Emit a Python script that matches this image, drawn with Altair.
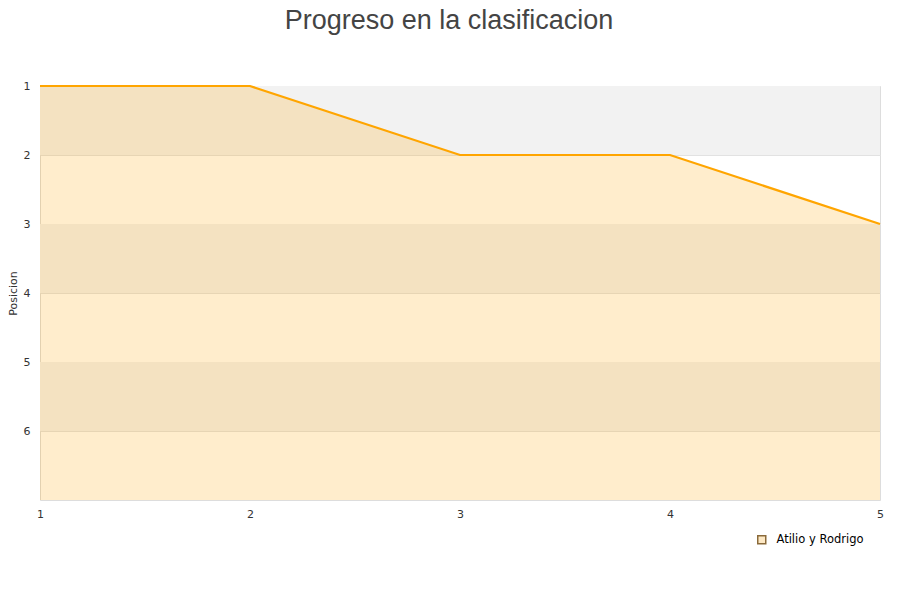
import altair as alt
import pandas as pd

jornadas = [1, 2, 3, 4, 5]
posiciones = [1, 1, 2, 2, 3]
equipo = "Atilio y Rodrigo"
band_start = [1, 3, 5]
band_end = [2, 4, 6]
y_ticks = [1, 2, 3, 4, 5, 6]

df = pd.DataFrame({"jornada": jornadas, "posicion": posiciones, "equipo": [equipo] * len(jornadas)})
bands = pd.DataFrame({"y0": band_start, "y1": band_end, "x0": [jornadas[0]] * 3, "x1": [jornadas[-1]] * 3})

xscale = alt.Scale(domain=[1, 5], nice=False, zero=False)
yscale = alt.Scale(domain=[1, 7], reverse=True, nice=False, zero=False)

band_layer = alt.Chart(bands).mark_rect(color="#f2f2f2").encode(
    x=alt.X("x0:Q", scale=xscale, axis=alt.Axis(values=jornadas, title=None, format="d", grid=False,
                                                 ticks=False, domain=False, labelPadding=8, labelFlush=False)),
    x2="x1:Q",
    y=alt.Y("y0:Q", scale=yscale, axis=alt.Axis(values=y_ticks, title="Posicion", format="d", ticks=False,
                                                 domain=False, grid=True, gridColor="#e2e2e2",
                                                 labelPadding=10, titlePadding=5)),
    y2="y1:Q",
)

area = alt.Chart(df).mark_area(color="#ffa500", fillOpacity=0.2, interpolate="linear").encode(
    x=alt.X("jornada:Q", scale=xscale),
    y=alt.Y("posicion:Q", scale=yscale),
    y2=alt.datum(7),
)

line = alt.Chart(df).mark_line(color="#ffa500", strokeWidth=2.2).encode(
    x=alt.X("jornada:Q", scale=xscale),
    y=alt.Y("posicion:Q", scale=yscale),
)

leg = alt.Legend(title=None, orient="none", legendX=716, legendY=448,
                 symbolSize=64, labelOffset=9,
                 labelFontSize=11.5, labelColor="#000000", labelFont="DejaVu Sans")

legend_layer = alt.Chart(df).transform_filter("false").mark_point(
    shape="square", filled=True, strokeWidth=1, opacity=1
).encode(
    x=alt.X("jornada:Q", scale=xscale),
    y=alt.Y("posicion:Q", scale=yscale),
    fill=alt.Fill("equipo:N", scale=alt.Scale(domain=[equipo], range=["#fde8c4"]), legend=leg),
    stroke=alt.Stroke("equipo:N", scale=alt.Scale(domain=[equipo], range=["#8a6a3a"]), legend=leg),
)

chart = alt.layer(band_layer, area, line, legend_layer).properties(
    width=840,
    height=414,
    autosize=alt.AutoSizeParams(type="none"),
    padding={"left": 32, "top": 78, "right": 12, "bottom": 92},
    title=alt.TitleParams("Progreso en la clasificacion", anchor="middle", fontSize=27, fontWeight="normal",
                          font="Liberation Sans", color="#444444", offset=45, dx=-11),
).configure_view(
    stroke="#dddddd", strokeWidth=1
).configure_axis(
    labelFont="DejaVu Sans", labelFontSize=11, labelColor="#333333",
    titleFont="DejaVu Sans", titleFontSize=11, titleFontWeight="normal", titleColor="#333333",
)

chart.save("out.html", embed_options={"renderer": "svg", "actions": False})
